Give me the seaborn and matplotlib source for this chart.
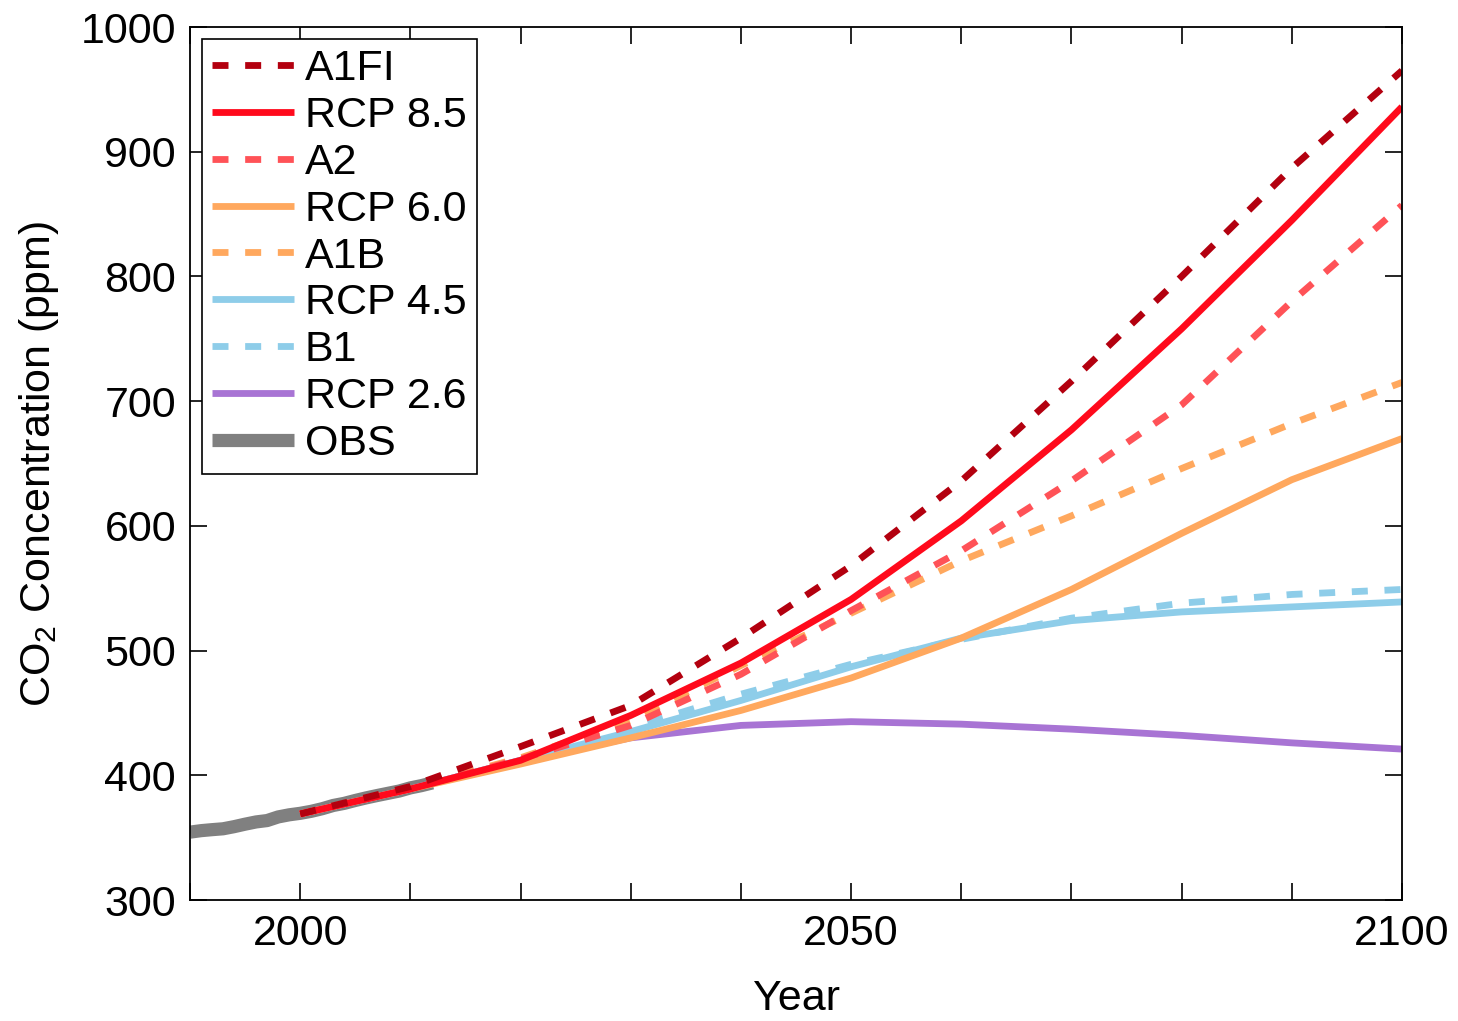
import matplotlib
matplotlib.use("Agg")
import matplotlib.pyplot as plt
import seaborn as sns
import pandas as pd

# ---------------- data ----------------
obs_years = list(range(1990, 2013))
obs_co2 = [354.4, 355.6, 356.4, 357.1, 358.8, 360.8, 362.6, 363.7, 366.6, 368.3,
           369.5, 371.1, 373.2, 375.8, 377.5, 379.8, 381.9, 383.8, 385.6, 387.4,
           389.9, 391.7, 393.9]

scen_years = [2000, 2010, 2020, 2030, 2040, 2050, 2060, 2070, 2080, 2090, 2100]
a1fi = [369, 391, 423, 456, 510, 568, 636, 716, 800, 887, 965]
rcp85 = [369, 389, 412, 448, 490, 541, 604, 677, 758, 845, 936]
a2 = [369, 389, 413, 440, 481, 532, 580, 636, 697, 780, 857]
rcp60 = [369, 389, 409, 430, 452, 478, 510, 549, 594, 637, 670]
a1b = [369, 390, 414, 444, 488, 530, 572, 608, 646, 682, 715]
rcp45 = [369, 389, 412, 435, 460, 487, 510, 524, 531, 535, 539]
b1 = [369, 389, 413, 438, 465, 489, 509, 526, 538, 545, 549]
rcp26 = [369, 389, 412, 430, 440, 443, 441, 437, 432, 426, 421]

legend_order = ["A1FI", "RCP 8.5", "A2", "RCP 6.0", "A1B", "RCP 4.5", "B1", "RCP 2.6", "OBS"]

# ---------------- style ----------------
sns.set_theme(style="ticks")
plt.rcParams["font.family"] = ["Liberation Sans", "DejaVu Sans"]
plt.rcParams["mathtext.fontset"] = "custom"
plt.rcParams["mathtext.rm"] = "Liberation Sans"
plt.rcParams["mathtext.it"] = "Liberation Sans:italic"
plt.rcParams["text.color"] = "black"
plt.rcParams["axes.labelcolor"] = "black"
plt.rcParams["xtick.color"] = "black"
plt.rcParams["ytick.color"] = "black"

FS = 31
LW = 4.9
DASH = (0, (2.35, 2.45))

fig = plt.figure(figsize=(14.58, 10.21), dpi=100)
ax = fig.add_axes([190 / 1458, 1 - 900 / 1021, (1402 - 190) / 1458, (900 - 27) / 1021])

series = [
    ("OBS", obs_years, obs_co2, "#808080", "-", 9.5),
    ("RCP 2.6", scen_years, rcp26, "#A874D4", "-", LW),
    ("B1", scen_years, b1, "#8ECDE9", DASH, LW),
    ("RCP 4.5", scen_years, rcp45, "#8ECDE9", "-", LW),
    ("A1B", scen_years, a1b, "#FFA85E", DASH, LW),
    ("RCP 6.0", scen_years, rcp60, "#FFA85E", "-", LW),
    ("A2", scen_years, a2, "#FF5257", DASH, LW),
    ("RCP 8.5", scen_years, rcp85, "#FF0A1C", "-", LW),
    ("A1FI", scen_years, a1fi, "#B3000F", DASH, LW),
]

for name, xs, ys, col, ls, lw in series:
    df = pd.DataFrame({"Year": xs, "CO2": ys})
    sns.lineplot(data=df, x="Year", y="CO2", ax=ax, color=col, linestyle=ls,
                 linewidth=lw, label=name, solid_capstyle="butt", dash_capstyle="butt")

ax.set_xlim(1990, 2100)
ax.set_ylim(300, 1000)
xt = list(range(1990, 2101, 10))
ax.set_xticks(xt)
ax.set_xticklabels([str(t) if t in (2000, 2050, 2100) else "" for t in xt])
ax.set_yticks(range(300, 1001, 100))
ax.tick_params(direction="in", length=12, width=1.2, top=True, right=True,
               labelsize=FS, pad=10, colors="black")
for sp in ax.spines.values():
    sp.set_linewidth(1.3)
    sp.set_color("black")
    sp.set_visible(True)

ax.set_xlabel("Year", fontsize=FS, labelpad=18, color="black")
ax.set_ylabel("CO$_2$ Concentration (ppm)", fontsize=FS, labelpad=14, color="black")

handles, labels = ax.get_legend_handles_labels()
hmap = dict(zip(labels, handles))
leg = ax.legend([hmap[k] for k in legend_order], legend_order, loc="upper left",
                fontsize=FS, frameon=True, fancybox=False, edgecolor="black",
                framealpha=1, handlelength=1.9, handletextpad=0.25,
                labelspacing=0.16, borderaxespad=0.27, borderpad=0.24,
                labelcolor="black")
leg.get_frame().set_linewidth(1.2)

fig.savefig("out.png", dpi=100)
